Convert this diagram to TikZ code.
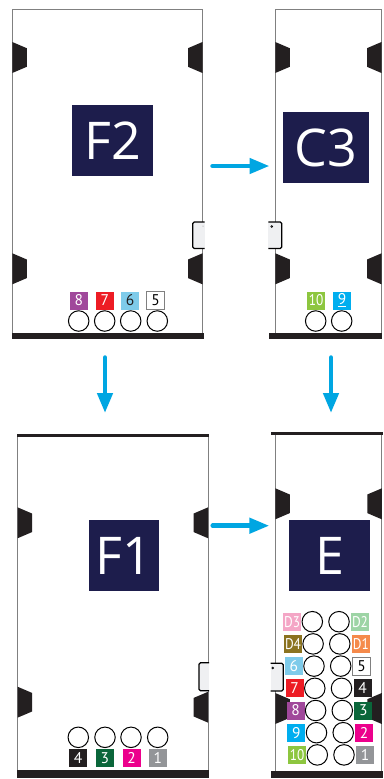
\documentclass[tikz,border=0pt]{standalone}
\usepackage{fontspec}
\setmainfont{PT Sans}
\newfontfamily\lblfont{Open Sans}
\usetikzlibrary{arrows.meta}
\definecolor{navy}{RGB}{29,29,76}
\definecolor{edgegray}{RGB}{128,128,128}
\definecolor{barblack}{RGB}{35,31,32}
\definecolor{arrowblue}{RGB}{0,166,226}
\definecolor{connfill}{RGB}{239,240,242}
\definecolor{cpink}{RGB}{244,166,198}
\definecolor{clgreen}{RGB}{157,212,165}
\definecolor{colive}{RGB}{139,115,32}
\definecolor{corange}{RGB}{245,138,75}
\definecolor{clblue}{RGB}{126,203,234}
\definecolor{cred}{RGB}{237,28,36}
\definecolor{cblack}{RGB}{35,31,32}
\definecolor{cpurple}{RGB}{160,72,155}
\definecolor{cdgreen}{RGB}{10,102,58}
\definecolor{ccyan}{RGB}{0,174,239}
\definecolor{cmagenta}{RGB}{236,0,140}
\definecolor{cgreen}{RGB}{141,198,63}
\definecolor{cgray}{RGB}{147,149,152}
\newcommand{\mytabL}[2]{\fill[barblack] (#1,#2) -- ++(14.5,6.2) -- ++(0,18.6) -- ++(-14.5,6.2) -- cycle;}
\newcommand{\mytabR}[2]{\fill[barblack] (#1,#2) -- ++(-14.5,6.2) -- ++(0,18.6) -- ++(14.5,6.2) -- cycle;}
\newcommand{\narrowtxt}[1]{\scalebox{0.86}[1]{#1}}
\begin{document}
\begin{tikzpicture}[x=1pt,y=-1pt,
  panelline/.style={draw=edgegray,line width=1pt},
  lbl/.style={fill=navy,text=white,inner sep=0pt,font=\lblfont\fontsize{52}{52}\selectfont},
  sq/.style={minimum size=18pt,inner sep=0pt,text=white,font=\fontsize{15.5}{15.5}\selectfont},
  sqw/.style={sq,fill=white,draw=edgegray,line width=1pt,text=black},
  ring/.style={circle,draw=black,line width=1pt,minimum size=20.5pt,inner sep=0pt},
  flow/.style={draw=arrowblue,line width=4.5pt,line cap=round,-{Triangle[length=20pt,width=15pt]}},
  conn/.style={draw=black,line width=1.2pt,rounded corners=1.5pt},
]
\useasboundingbox (0,0) rectangle (383,779);
\fill[white] (0,0) rectangle (383,779);

% ---------- panel F2 ----------
\draw[panelline] (12.3,338) -- (12.3,9) -- (202.5,9) -- (202.5,338);
\fill[barblack] (12,332.5) rectangle (204,338.5);
\mytabL{12.3}{42}\mytabR{202.5}{42}\mytabL{12.3}{253.3}\mytabR{202.5}{253.3}
\fill[connfill] (192.8,222) rectangle (204.5,248.5);
\draw[conn] (204.5,222) -- (192.8,222) -- (192.8,248.5) -- (204.5,248.5);
\fill[edgegray] (203,226) circle (0.5);
\node[lbl,minimum width=81pt,minimum height=71pt] (f2) at (112.5,140.5) {F2};
\node[sq,fill=cpurple] (f2s8) at (78.8,300.5) {8};
\node[sq,fill=cred] (f2s7) at (104.8,300.5) {7};
\node[sq,fill=clblue,text=barblack] (f2s6) at (130,300.5) {6};
\node[sqw] (f2s5) at (155.7,300.5) {5};
\node[ring] (f2c8) at (78.7,321) {};
\node[ring] (f2c7) at (104.7,321) {};
\node[ring] (f2c6) at (130.7,321) {};
\node[ring] (f2c5) at (157.3,321) {};

% ---------- panel C3 ----------
\draw[panelline] (275.3,338) -- (275.3,9) -- (381.5,9) -- (381.5,338);
\fill[barblack] (269,332.5) rectangle (382,338.5);
\mytabL{275.3}{42}\mytabR{381.5}{42}\mytabL{275.3}{253.3}\mytabR{381.5}{253.3}
\fill[connfill] (268.3,222) rectangle (281.7,248.5);
\draw[conn] (268.3,222) -- (281.7,222) -- (281.7,248.5) -- (268.3,248.5);
\draw[black,line width=0.6pt] (271.8,226.5) circle (0.9);
\node[lbl,minimum width=86pt,minimum height=71pt] (c3) at (326,147.5) {C3};
\node[sq,fill=cgreen] (c3s10) at (316.2,300.5) {\narrowtxt{10}};
\node[sq,fill=ccyan] (c3s9) at (342.2,300.5) {\underline{9}};
\node[ring] (c3c10) at (315.7,321) {};
\node[ring] (c3c9) at (341.7,321) {};

% ---------- panel F1 ----------
\draw[panelline] (17.5,436) -- (17.5,772);
\draw[panelline] (208.2,436) -- (208.2,772);
\fill[barblack] (16.7,433.8) rectangle (209,436.8);
\fill[barblack] (16.7,769.5) rectangle (209,778);
\mytabL{17.5}{507.3}\mytabR{208.2}{507.3}\mytabL{17.5}{686.7}\mytabR{208.2}{691.7}
\fill[connfill] (199,662.7) rectangle (209,690.7);
\draw[conn] (209,662.7) -- (199,662.7) -- (199,690.7) -- (209,690.7);
\node[lbl,minimum width=70pt,minimum height=71pt] (f1) at (124,555.5) {F1};
\node[ring] (f1c4) at (78.3,737.3) {};
\node[ring] (f1c3) at (105,737.3) {};
\node[ring] (f1c2) at (131,737.3) {};
\node[ring] (f1c1) at (157.7,737.3) {};
\node[sq,fill=cblack] (f1s4) at (78.2,758.3) {4};
\node[sq,fill=cdgreen] (f1s3) at (104.8,758.3) {3};
\node[sq,fill=cmagenta] (f1s2) at (131.5,758.3) {2};
\node[sq,fill=cgray] (f1s1) at (157.8,758.3) {1};

% ---------- panel E ----------
\draw[panelline] (275.3,434) -- (275.3,772);
\draw[panelline] (381.8,434) -- (381.8,772);
\fill[barblack] (271,432.3) rectangle (382.5,435);
\fill[barblack] (271,770.8) rectangle (382.5,778.3);
\mytabL{275.3}{488.3}\mytabR{381.8}{488.3}\mytabL{275.3}{693}\mytabR{381.8}{693}
\fill[connfill] (270.5,663.3) rectangle (283.3,691);
\draw[conn] (270.5,663.3) -- (283.3,663.3) -- (283.3,691) -- (270.5,691);
\draw[black,line width=0.6pt] (272.7,668) circle (0.9);
\node[lbl,minimum width=81pt,minimum height=71pt] (e) at (329.5,555.5) {E};
% rows of E
\node[sq,fill=cpink]    (es-d3) at (292.2,621.7) {\narrowtxt{D3}};
\node[sq,fill=colive]   (es-d4) at (293.0,643.9) {\narrowtxt{D4}};
\node[sq,fill=clblue]   (es-6)  at (293.9,666.1) {6};
\node[sq,fill=cred]     (es-7)  at (294.7,688.3) {7};
\node[sq,fill=cpurple]  (es-8)  at (295.5,710.5) {8};
\node[sq,fill=ccyan]    (es-9)  at (296.4,732.7) {9};
\node[sq,fill=cgreen]   (es-10) at (297.2,754.9) {\narrowtxt{10}};
\node[ring] (ecl1) at (312.3,621.7) {};
\node[ring] (ecl2) at (313.1,643.9) {};
\node[ring] (ecl3) at (314.0,666.1) {};
\node[ring] (ecl4) at (314.8,688.3) {};
\node[ring] (ecl5) at (315.6,710.5) {};
\node[ring] (ecl6) at (316.5,732.7) {};
\node[ring] (ecl7) at (317.3,754.9) {};
\node[ring] (ecr1) at (339.0,621.7) {};
\node[ring] (ecr2) at (339.8,643.9) {};
\node[ring] (ecr3) at (340.7,666.1) {};
\node[ring] (ecr4) at (341.5,688.3) {};
\node[ring] (ecr5) at (342.3,710.5) {};
\node[ring] (ecr6) at (343.2,732.7) {};
\node[ring] (ecr7) at (344.0,754.9) {};
\node[sq,fill=clgreen]  (es-d2) at (360.0,621.7) {\narrowtxt{D2}};
\node[sq,fill=corange]  (es-d1) at (360.8,643.9) {\narrowtxt{D1}};
\node[sqw]              (es-5)  at (361.7,666.1) {5};
\node[sq,fill=cblack]   (es-4)  at (362.5,688.3) {4};
\node[sq,fill=cdgreen]  (es-3)  at (363.3,710.5) {3};
\node[sq,fill=cmagenta] (es-2)  at (364.2,732.7) {2};
\node[sq,fill=cgray]    (es-1)  at (365.0,754.9) {1};

% ---------- arrows ----------
\coordinate (a1s) at (212.5,166);
\coordinate (a1e) at (269.5,166);
\coordinate (a2s) at (105,357.5);
\coordinate (a2e) at (105,413);
\coordinate (a3s) at (331,357.5);
\coordinate (a3e) at (331,413);
\coordinate (a4s) at (212.7,525.7);
\coordinate (a4e) at (269.3,525.7);
\draw[flow] (a1s) -- (a1e);
\draw[flow] (a2s) -- (a2e);
\draw[flow] (a3s) -- (a3e);
\draw[flow] (a4s) -- (a4e);
\end{tikzpicture}
\end{document}
